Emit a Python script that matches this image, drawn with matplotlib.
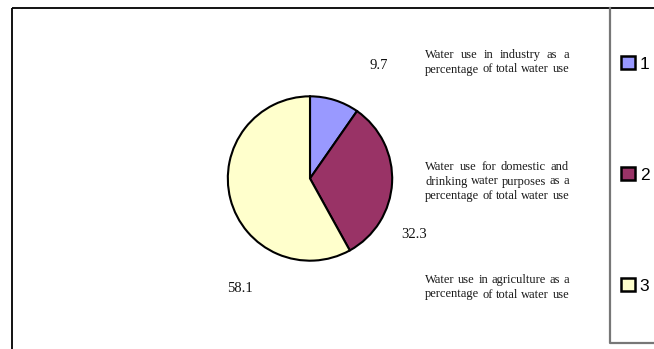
import matplotlib
matplotlib.use("Agg")
import matplotlib.pyplot as plt
from matplotlib.patches import Patch

# water use shares (percent of total)
categories = ["1", "2", "3"]
shares = [9.7, 32.3, 58.1]
share_labels = ["9.7", "32.3", "58.1"]
descriptions = [
    ["Water use in industry as a", "percentage of total water use"],
    ["Water use for domestic and", "drinking water purposes as a",
     "percentage of total water use"],
    ["Water use in agriculture as a", "percentage of total water use"],
]
colors = ["#9999FF", "#993366", "#FFFFCC"]

W, H = 654, 349
fig = plt.figure(figsize=(W / 100, H / 100), dpi=100)

# full-figure axes in pixel units for frame lines and text
bg = fig.add_axes([0, 0, 1, 1])
bg.set_xlim(0, W)
bg.set_ylim(H, 0)
bg.axis("off")

# outer chart frame (top and left edges visible)
bg.plot([12, W], [7.5, 7.5], color="black", lw=1.3, solid_capstyle="butt")
bg.plot([12, 12], [7.5, H], color="black", lw=1.3, solid_capstyle="butt")
# legend box
bg.plot([609.5, 609.5, W], [7.5, 342.5, 342.5], color="#777777", lw=1.6)

# pie
cx, cy, rad = 310, 178.5, 83
ax = fig.add_axes([(cx - rad) / W, (H - cy - rad) / H, 2 * rad / W, 2 * rad / H])
ax.pie(shares, colors=colors, startangle=90, counterclock=False,
       wedgeprops=dict(edgecolor="black", linewidth=1.5))
ax.set_xlim(-1.01, 1.01)
ax.set_ylim(-1.01, 1.01)
ax.axis("off")

# value labels around the pie
label_pos = [(0.83, 1.38), (1.27, -0.68), (-0.85, -1.34)]
for (lx, ly), s in zip(label_pos, share_labels):
    ax.text(lx, ly, s, ha="center", va="center", fontsize=10.5,
            family="Liberation Serif", color="#111111", clip_on=False)

# justified description blocks, sized so the longest natural line fills the column
fig.canvas.draw()
renderer = fig.canvas.get_renderer()
x0, x1 = 425, 569
probe = bg.text(0, 0, "percentage of total water use", fontsize=10,
                family="Liberation Serif")
desc_size = 10 * (x1 - x0) / probe.get_window_extent(renderer).width
probe.remove()

block_top = [55, 167, 280]
line_step = 14.5
for top, lines in zip(block_top, descriptions):
    for i, line in enumerate(lines):
        y = top + i * line_step
        words = line.split()
        texts = [bg.text(0, y, w, fontsize=desc_size, family="Liberation Serif",
                         color="#1a1a1a", va="center", ha="left") for w in words]
        widths = [t.get_window_extent(renderer).width for t in texts]
        gap = (x1 - x0 - sum(widths)) / max(len(words) - 1, 1)
        x = x0
        for t, w in zip(texts, widths):
            t.set_x(x)
            x += w + gap

# legend
handles = [Patch(facecolor=c, edgecolor="black", linewidth=1.8) for c in colors]
fig.legend(handles, categories, loc="upper left",
           bbox_to_anchor=(621 / W, 1 - 56 / H), frameon=False,
           handlelength=0.78, handleheight=0.78,
           handletextpad=0.3, labelspacing=5.5, borderpad=0,
           borderaxespad=0, prop={"family": "Liberation Sans", "size": 12.5})

fig.savefig("out.png", dpi=100)
